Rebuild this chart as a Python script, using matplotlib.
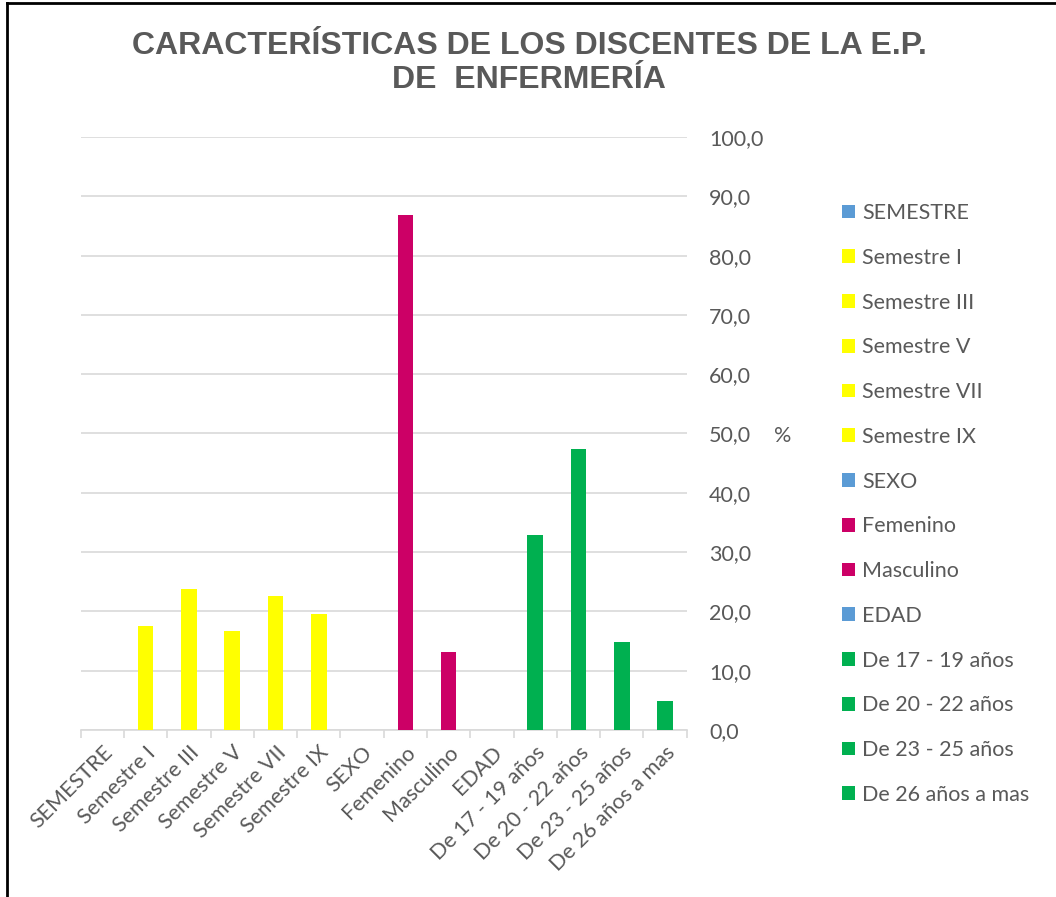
import matplotlib.pyplot as plt
from matplotlib.ticker import FuncFormatter

categorias = ["SEMESTRE", "Semestre I", "Semestre III", "Semestre V", "Semestre VII",
              "Semestre IX", "SEXO", "Femenino", "Masculino", "EDAD",
              "De 17 - 19 años", "De 20 - 22 años", "De 23 - 25 años", "De 26 años a mas"]
porcentajes = [0, 17.5, 23.8, 16.7, 22.6, 19.5, 0, 86.8, 13.2, 0, 32.9, 47.4, 14.8, 4.9]
grupo = ["titulo", "sem", "sem", "sem", "sem", "sem", "titulo", "sexo", "sexo", "titulo",
         "edad", "edad", "edad", "edad"]

colores = {"titulo": "#5B9BD5", "sem": "#FFFF00", "sexo": "#CC0066", "edad": "#00B050"}
gris = "#595959"
linea = "#D9D9D9"

W, H = 1056, 897
fig = plt.figure(figsize=(W / 100, H / 100), dpi=100)
plt.rcParams['font.family'] = ['Lato', 'DejaVu Sans']
fs = 15.5

# marco de la figura (solo izquierda y arriba visibles)
fig.add_artist(plt.Line2D([7 / W, 7 / W], [0, 1 - 3 / H], transform=fig.transFigure, color="black", lw=2))
fig.add_artist(plt.Line2D([7 / W, 1], [1 - 3 / H, 1 - 3 / H], transform=fig.transFigure, color="black", lw=2))

ax = fig.add_axes([80.7 / W, (H - 730) / H, 606 / W, 593 / H])

x = range(len(categorias))
for i, (cat, val, g) in enumerate(zip(categorias, porcentajes, grupo)):
    ax.bar(i, val, width=0.36, color=colores[g], label=cat, zorder=3)

ax.set_xlim(-0.5, len(categorias) - 0.5)
ax.set_ylim(0, 100)
ax.set_yticks(range(0, 101, 10))
ax.yaxis.set_major_formatter(FuncFormatter(lambda v, p: f"{v:.1f}".replace(".", ",")))
ax.yaxis.tick_right()
ax.tick_params(axis="y", length=0, pad=16, labelsize=fs, labelcolor=gris)
ax.grid(axis="y", color=linea, lw=1.2, zorder=0)

ax.set_xticks(list(x))
ax.set_xticklabels(categorias, rotation=45, ha="right", va="top", rotation_mode="anchor",
                   fontsize=fs, color=gris)
ax.set_xticks([i - 0.5 for i in range(len(categorias) + 1)], minor=True)
ax.tick_params(axis="x", which="major", length=0, pad=9)
ax.tick_params(axis="x", which="minor", length=6, color=linea, width=1.2, direction="out")

for s in ["top", "left", "right"]:
    ax.spines[s].set_visible(False)
ax.spines["bottom"].set_color(linea)
ax.spines["bottom"].set_linewidth(1.2)

ax.yaxis.set_label_position("right")
ax.set_ylabel("%", rotation=0, fontsize=fs, color=gris, va="center", ha="center")
ax.yaxis.set_label_coords((783 - 80.7) / 606, 0.495)

fig.text(529 / W, 1 - 63 / H, "CARACTERÍSTICAS DE LOS DISCENTES DE LA E.P.\nDE  ENFERMERÍA",
         ha="center", va="center", fontsize=23, fontweight="bold", color=gris,
         family="Liberation Sans", linespacing=1.18)

leg = ax.legend(loc="upper left", bbox_to_anchor=(842 / W, 1 - 203 / H),
                bbox_transform=fig.transFigure, frameon=False, fontsize=fs,
                handlelength=0.6, handleheight=0.6, handletextpad=0.35,
                labelspacing=1.15, borderaxespad=0, borderpad=0)
for t in leg.get_texts():
    t.set_color(gris)

fig.savefig("out.png", dpi=100, facecolor="white")
